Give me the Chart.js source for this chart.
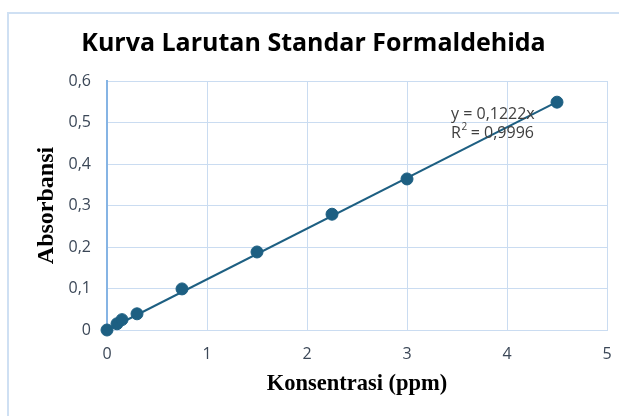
<!DOCTYPE html>
<html>
<head>
<meta charset="utf-8">
<script src="https://cdn.jsdelivr.net/npm/chart.js@4.4.1/dist/chart.umd.min.js"></script>
<style>
  body { margin: 0; background: #fff; overflow: hidden; }
  #wrap { position: relative; width: 619px; height: 416px; }
  #frame { position: absolute; left: 7px; top: 12px; width: 640px; height: 440px;
           border: 2px solid #cfe0f3; box-sizing: border-box; }
  #myChart { position: absolute; left: 0; top: 0; }
</style>
</head>
<body>
<div id="wrap">
  <div id="frame"></div>
  <canvas id="myChart" width="619" height="416"></canvas>
</div>
<script>
// measured points (ppm, absorbance)
let konsentrasi = [0, 0.1, 0.15, 0.3, 0.75, 1.5, 2.25, 3, 4.5];
let absorbansi = [0, 0.015, 0.025, 0.039, 0.099, 0.188, 0.279, 0.364, 0.549];

// trendline end points, y = 0.1222x
let trendX = [0, 4.5];
let trendY = [0, 0.5499];

// ticks
let xTicks = [0, 1, 2, 3, 4, 5];
let xTickLabels = ['0', '1', '2', '3', '4', '5'];
let yTicks = [0, 0.1, 0.2, 0.3, 0.4, 0.5, 0.6];
let yTickLabels = ['0', '0,1', '0,2', '0,3', '0,4', '0,5', '0,6'];

let eqText = 'y = 0,1222x';
let r2Text = ' = 0,9996';

let points = konsentrasi.map((x, i) => ({x: x, y: absorbansi[i]}));
let trend = trendX.map((x, i) => ({x: x, y: trendY[i]}));

const markColor = '#1d5f82';
const gridColor = '#cadcf1';
const tickColor = '#3b4757';
const sans = 'Open Sans';

// equation label next to the trendline
const eqPlugin = {
    id: 'eq',
    afterDatasetsDraw(chart) {
        const c = chart.ctx;
        const x = chart.scales.x.getPixelForValue(3.44);
        const y = chart.scales.y.getPixelForValue(0.52);
        c.save();
        c.fillStyle = '#404040';
        c.textBaseline = 'middle';
        c.textAlign = 'left';
        c.font = '16px ' + sans;
        c.fillText(eqText, x, y);
        const y2 = y + 19;
        c.fillText('R', x, y2);
        const rw = c.measureText('R').width;
        c.font = '10px ' + sans;
        c.fillText('2', x + rw + 0.5, y2 - 6);
        const sw = c.measureText('2').width;
        c.font = '16px ' + sans;
        c.fillText(r2Text, x + rw + sw, y2);
        c.restore();
    }
};

let ctx = document.getElementById('myChart');

let myChart = new Chart(ctx, {
    type: 'scatter',
    data: {
        datasets: [{
            data: points,
            backgroundColor: markColor,
            borderColor: markColor,
            pointRadius: 6,
            pointHoverRadius: 6,
            clip: false,
            order: 0
        }, {
            type: 'line',
            data: trend,
            borderColor: markColor,
            borderWidth: 2,
            pointRadius: 0,
            fill: false,
            clip: false,
            order: 1
        }]
    },
    options: {
        responsive: false,
        animation: false,
        events: [],
        layout: {padding: {left: 20, right: 12, top: 0, bottom: 0}},
        plugins: {
            legend: {display: false},
            tooltip: {enabled: false},
            title: {
                display: true,
                text: 'Kurva Larutan Standar Formaldehida',
                color: '#000',
                font: {family: sans, size: 25, weight: 'bold'},
                padding: {top: 29, bottom: 22}
            }
        },
        scales: {
            x: {
                type: 'linear',
                min: 0,
                max: 5,
                afterBuildTicks: s => { s.ticks = xTicks.map(v => ({value: v})); },
                afterFit: s => { s.height = 86; },
                ticks: {
                    callback: (v, i) => xTickLabels[i],
                    color: tickColor,
                    font: {family: sans, size: 16},
                    padding: 0,
                    maxRotation: 0
                },
                grid: {color: gridColor, drawTicks: true, tickLength: 15, tickColor: 'rgba(0,0,0,0)'},
                border: {color: gridColor, width: 1},
                title: {
                    display: true,
                    text: 'Konsentrasi (ppm)',
                    color: '#000',
                    font: {family: 'Liberation Serif', size: 22.5, weight: 'bold'},
                    padding: {top: 6, bottom: 18.5}
                }
            },
            y: {
                type: 'linear',
                min: 0,
                max: 0.6,
                afterBuildTicks: s => { s.ticks = yTicks.map(v => ({value: v})); },
                afterFit: s => { s.width = 87; },
                ticks: {
                    callback: (v, i) => yTickLabels[i],
                    color: tickColor,
                    font: {family: sans, size: 16},
                    padding: 16
                },
                grid: {color: gridColor, drawTicks: false},
                border: {color: '#86b4e4', width: 2},
                title: {
                    display: true,
                    text: 'Absorbansi',
                    color: '#000',
                    font: {family: 'Liberation Serif', size: 24, weight: 'bold'},
                    padding: {top: 12.6, bottom: 0}
                }
            }
        }
    },
    plugins: [eqPlugin]
});
</script>
</body>
</html>
